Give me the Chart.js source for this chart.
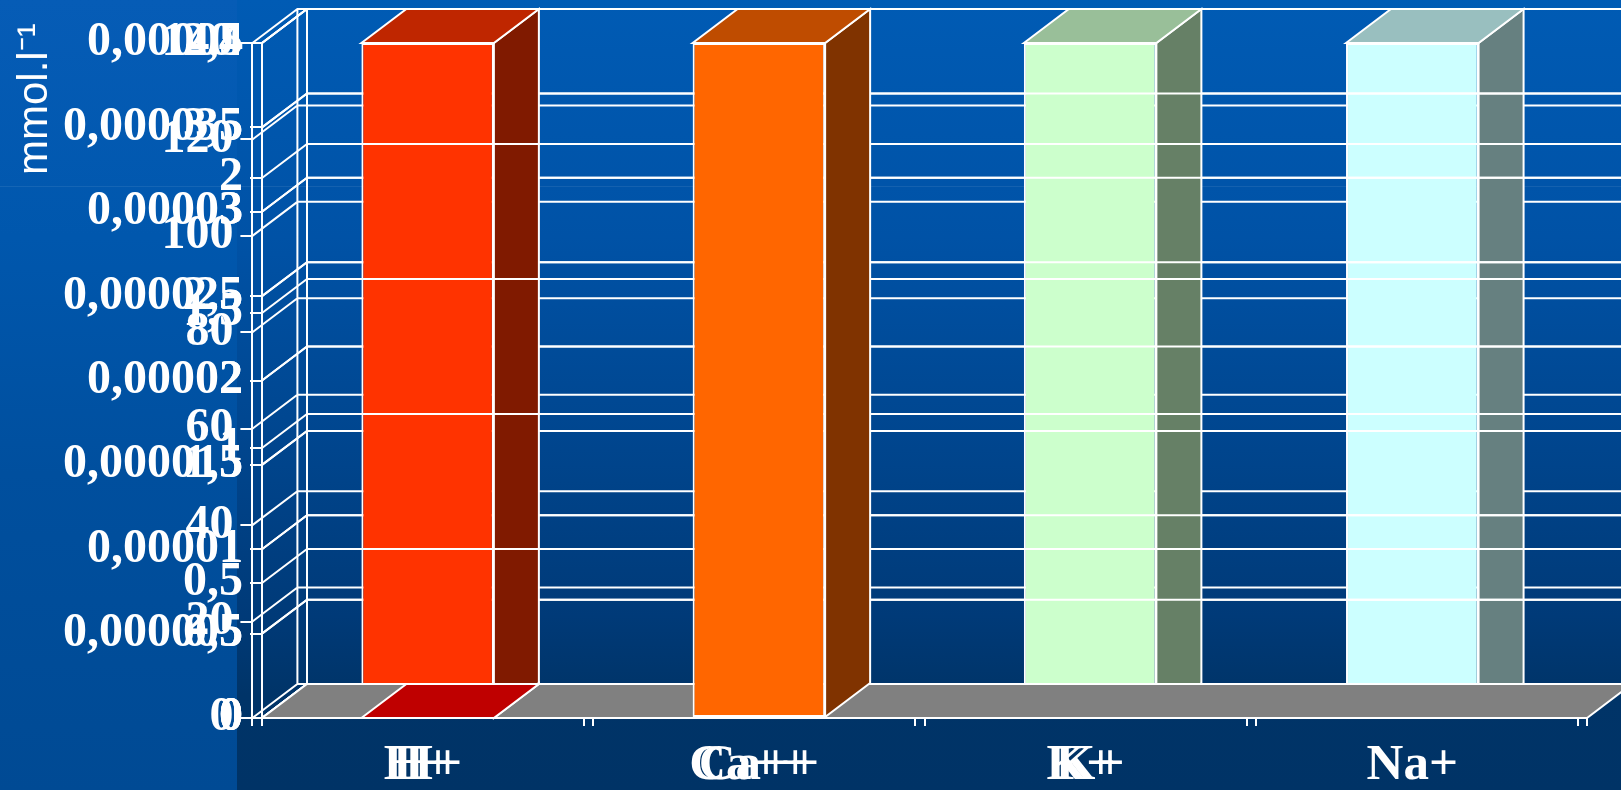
<!DOCTYPE html>
<html>
<head>
<meta charset="utf-8">
<script src="https://cdn.jsdelivr.net/npm/chart.js@4.4.1/dist/chart.umd.min.js"></script>
<style>
html,body{margin:0;padding:0;}
body{width:1621px;height:790px;overflow:hidden;position:relative;
  background:linear-gradient(to bottom,#065cb6 0%,#0057ad 30%,#004f9e 60%,#004a94 100%);}
#panel{position:absolute;left:237px;top:0;width:1384px;height:790px;
  background:linear-gradient(to bottom,#005bb4 0%,#0052a6 30%,#00468f 55%,#003a78 78%,#003468 88%,#003366 100%);}
#seam{position:absolute;left:0;top:186px;width:1621px;height:1px;background:rgba(255,255,255,0.08);}
canvas{position:absolute;left:0;top:0;}
</style>
</head>
<body>
<div id="panel"></div>
<div id="seam"></div>
<canvas id="cNa" width="1621" height="790"></canvas>
<canvas id="cK" width="1621" height="790"></canvas>
<canvas id="cH" width="1621" height="790"></canvas>
<canvas id="cCa" width="1621" height="790"></canvas>
<script>
// ---- data (mmol.l-1, blood plasma ion concentrations) ----
const categories = ['H+', 'Ca++', 'K+', 'Na+'];
const sodium    = [null, null, null, 140];
const potassium = [null, null, 4, null];
const hydrogen  = [0.00004, null, null, null];
const calcium   = [0.00004, 2.5, null, null];   // H+ also present in this chart (flat at this scale)

// ---- tick values of the four overlaid value axes ----
const ticksNa = [0, 20, 40, 60, 80, 100, 120, 140];
const ticksK  = [0, 0.5, 1, 1.5, 2, 2.5, 3, 3.5, 4];
const ticksH  = [0, 0.000005, 0.00001, 0.000015, 0.00002, 0.000025, 0.00003, 0.000035, 0.00004];
const ticksCa = [0, 0.5, 1, 1.5, 2, 2.5];

const yTitle = 'mmol.l\u207B\u00B9';

function fmt(v) {
  return Number(Number(v).toPrecision(10)).toString().replace('.', ',');
}
function pick(c, j) { return Array.isArray(c) ? c[j] : c; }

const depthPlugin = {
  id: 'depth3d',
  beforeDatasetsDraw(chart, args, opts) {
    const ctx = chart.ctx, a = chart.chartArea, ys = chart.scales.y;
    const dx = opts.dx, dy = opts.dy, W = chart.width;
    ctx.save();
    ctx.strokeStyle = '#ffffff';
    ctx.lineWidth = 2;
    ctx.beginPath();
    ys.ticks.forEach(t => {
      const py = ys.getPixelForValue(t.value);
      ctx.moveTo(a.left, py);
      ctx.lineTo(a.left + dx, py + dy);
      ctx.lineTo(W, py + dy);
    });
    ctx.moveTo(a.left + dx, a.top + dy);
    ctx.lineTo(a.left + dx, a.bottom + dy);
    ctx.stroke();
    if (opts.floor) {
      ctx.beginPath();
      ctx.moveTo(a.left, a.bottom);
      ctx.lineTo(a.right, a.bottom);
      ctx.lineTo(a.right + dx, a.bottom + dy);
      ctx.lineTo(a.left + dx, a.bottom + dy);
      ctx.closePath();
      ctx.fillStyle = '#808080';
      ctx.fill();
      ctx.stroke();
    }
    ctx.restore();
  },
  afterDatasetsDraw(chart, args, opts) {
    const ctx = chart.ctx, dx = opts.dx, dy = opts.dy;
    ctx.save();
    ctx.strokeStyle = '#ffffff';
    ctx.lineWidth = 2;
    chart.data.datasets.forEach((ds, i) => {
      const meta = chart.getDatasetMeta(i);
      meta.data.forEach((bar, j) => {
        if (ds.data[j] === null || ds.data[j] === undefined) return;
        const p = bar.getProps(['x', 'y', 'base', 'width'], true);
        const l = p.x - p.width / 2, r = p.x + p.width / 2;
        ctx.beginPath();
        ctx.moveTo(r, p.y);
        ctx.lineTo(r + dx, p.y + dy);
        ctx.lineTo(r + dx, p.base + dy);
        ctx.lineTo(r, p.base);
        ctx.closePath();
        ctx.fillStyle = pick(ds.sideColor, j);
        ctx.fill();
        ctx.stroke();
        ctx.beginPath();
        ctx.moveTo(l, p.y);
        ctx.lineTo(l + dx, p.y + dy);
        ctx.lineTo(r + dx, p.y + dy);
        ctx.lineTo(r, p.y);
        ctx.closePath();
        ctx.fillStyle = pick(ds.topColor, j);
        ctx.fill();
        ctx.stroke();
      });
    });
    ctx.restore();
  }
};

function makeChart(id, cfg) {
  return new Chart(document.getElementById(id), {
    type: 'bar',
    data: {
      labels: categories,
      datasets: [{
        data: cfg.data,
        backgroundColor: cfg.front,
        sideColor: cfg.side,
        topColor: cfg.top,
        borderColor: '#ffffff',
        borderWidth: 2,
        borderSkipped: false,
        barPercentage: 0.4,
        categoryPercentage: 1
      }]
    },
    options: {
      responsive: false,
      animation: false,
      devicePixelRatio: 1,
      layout: { padding: { left: 0, right: cfg.padRight, top: 0, bottom: 0 } },
      plugins: {
        legend: { display: false },
        tooltip: { enabled: false },
        title: cfg.title || { display: false },
        depth3d: { dx: 45, dy: -34, floor: !!cfg.floor }
      },
      scales: {
        x: {
          offset: true,
          grid: { display: true, drawOnChartArea: false, drawTicks: true, tickLength: 8, color: '#ffffff', lineWidth: 2, offset: true },
          border: { display: true, color: '#ffffff', width: 2 },
          ticks: {
            display: cfg.xLabels,
            color: '#ffffff',
            font: { family: 'Liberation Serif', weight: 'bold', size: 51 },
            padding: 9,
            autoSkip: false,
            maxRotation: 0,
            callback: (v, i) => (cfg.hideX && cfg.hideX.includes(i)) ? '' : categories[i]
          },
          afterFit(s) { s.height = 72; }
        },
        y: {
          min: 0,
          max: cfg.ticks[cfg.ticks.length - 1],
          grid: { drawOnChartArea: false, drawTicks: true, tickLength: 12, color: '#ffffff', lineWidth: 2 },
          border: { display: true, color: '#ffffff', width: 2 },
          ticks: {
            color: '#ffffff',
            font: { family: 'Liberation Serif', weight: 'bold', size: 48 },
            padding: 7,
            autoSkip: false,
            callback: v => fmt(v)
          },
          afterBuildTicks(s) { s.ticks = cfg.ticks.map(v => ({ value: v })); },
          afterFit(s) { s.width = cfg.axisWidth; s.paddingTop = 43; }
        }
      }
    },
    plugins: [depthPlugin]
  });
}

// bottom overlay: Na+
makeChart('cNa', {
  data: sodium, ticks: ticksNa,
  front: '#ccffff', side: '#668080', top: '#99bfbf',
  axisWidth: 192, padRight: 43, xLabels: true,
  title: { display: true, position: 'left', align: 'end', text: yTitle + '  ', color: '#ffffff',
           font: { family: 'Liberation Sans', size: 42, weight: 'normal' }, padding: { top: 10, bottom: 0 }, fullSize: true }
});
makeChart('cK', {
  data: potassium, ticks: ticksK,
  front: '#ccffcc', side: '#668066', top: '#99bf99',
  axisWidth: 262, padRight: 34, xLabels: false
});
makeChart('cH', {
  data: hydrogen, ticks: ticksH,
  front: '#ff3300', side: '#801a00', top: '#bf2600',
  axisWidth: 262, padRight: 34, xLabels: false
});
makeChart('cCa', {
  data: calcium, ticks: ticksCa,
  front: ['#ff0000', '#ff6600', '#ff6600', '#ff6600'],
  side: ['#800000', '#803300', '#803300', '#803300'],
  top: ['#bf0000', '#bf4c00', '#bf4c00', '#bf4c00'],
  axisWidth: 262, padRight: 34, xLabels: true, hideX: [3], floor: true
});
</script>
</body>
</html>
